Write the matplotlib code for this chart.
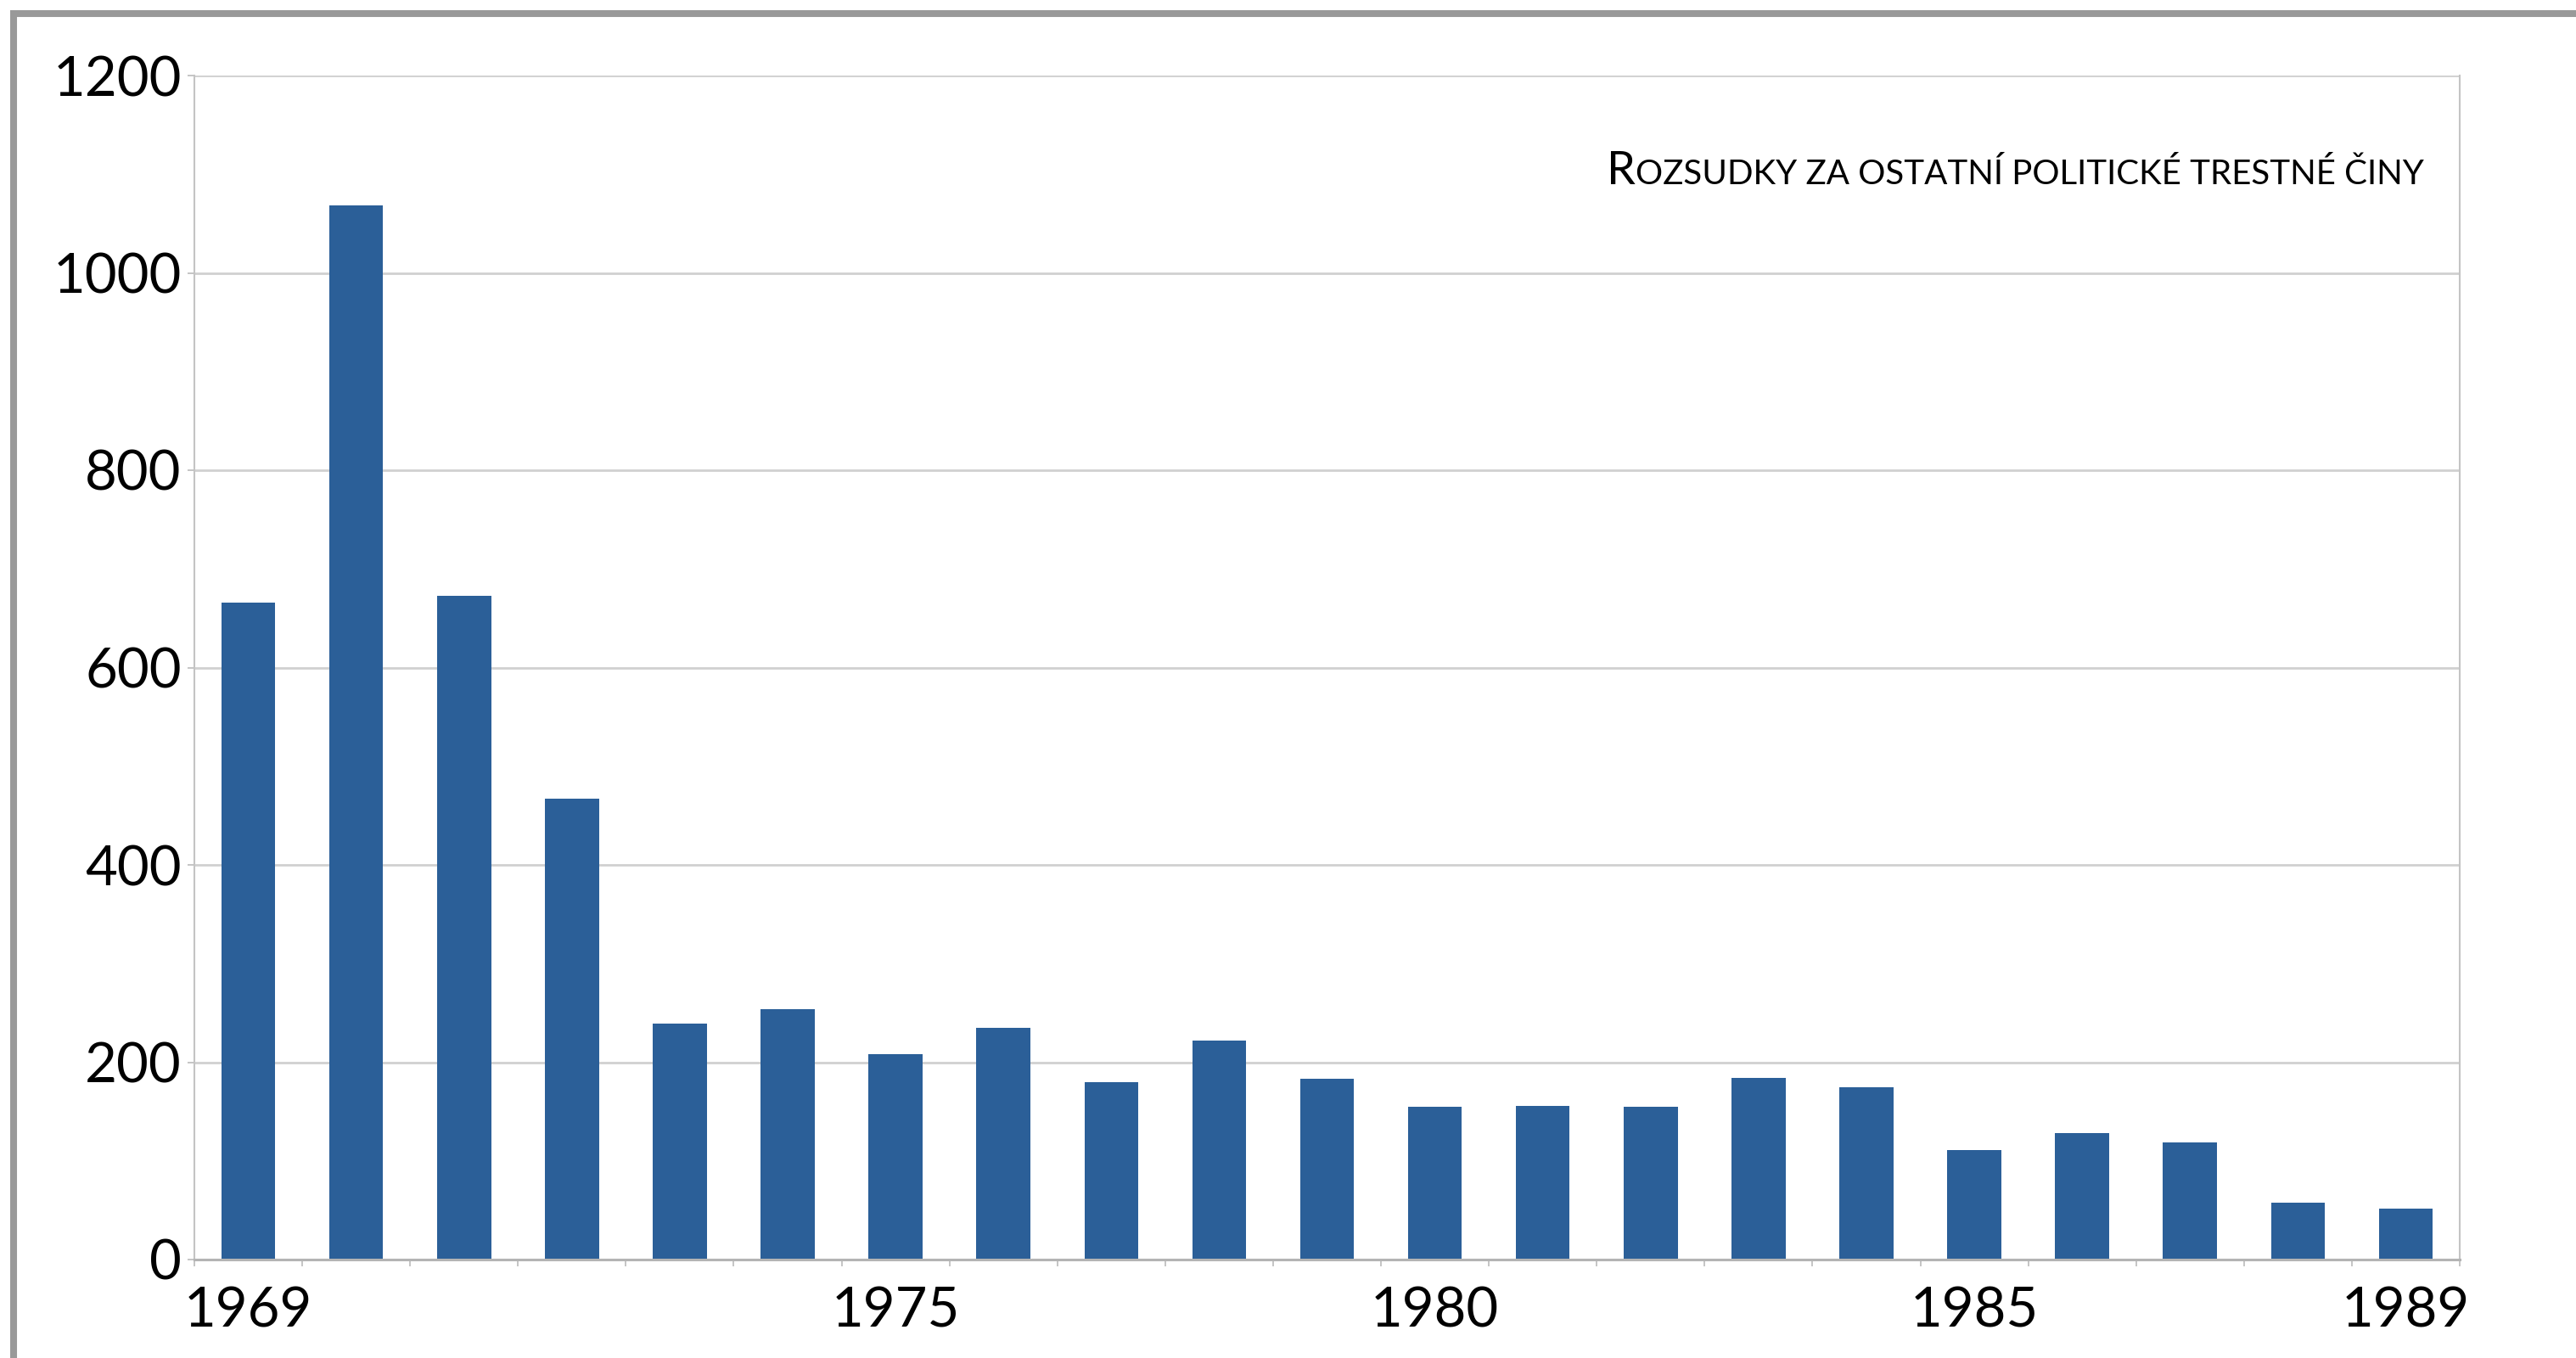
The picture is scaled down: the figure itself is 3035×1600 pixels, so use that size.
import matplotlib
matplotlib.use('Agg')
import matplotlib.pyplot as plt
from matplotlib.lines import Line2D
from matplotlib.offsetbox import TextArea, HPacker, AnchoredOffsetbox

# data
years = list(range(1969, 1990))
counts = [666, 1068, 673, 467, 239, 254, 208, 235, 180, 222, 183,
          155, 156, 155, 184, 175, 111, 128, 119, 58, 52]
label_years = [1969, 1975, 1980, 1985, 1989]
y_ticks = [0, 200, 400, 600, 800, 1000, 1200]
title_first = 'R'
title_rest = 'OZSUDKY ZA OSTATNÍ POLITICKÉ TRESTNÉ ČINY'

plt.rcParams['font.family'] = ['Lato', 'DejaVu Sans']

bar_color = '#2b5f98'
grid_color = '#d0d0d0'

W, H = 3035, 1600
fig = plt.figure(figsize=(W / 100, H / 100), dpi=100)
ax = fig.add_axes([229 / W, 1 - 1484 / H, (2898 - 229) / W, (1484 - 89) / H])

pos = list(range(len(years)))
ax.bar(pos, counts, width=0.5, color=bar_color, zorder=3)

ax.set_xlim(-0.5, len(years) - 0.5)
ax.set_ylim(0, 1200)

# y axis
ax.set_yticks(y_ticks)
ax.set_yticklabels([str(v) for v in y_ticks])
ax.yaxis.grid(True, color=grid_color, linewidth=2, zorder=0)
ax.tick_params(axis='y', length=6, width=1.2, color='#bbbbbb', pad=5,
               labelsize=47, labelcolor='black')

# x axis: ticks at category boundaries, labels under some bars
ax.set_xticks([p - 0.5 for p in pos] + [len(years) - 0.5])
ax.set_xticklabels([])
ax.set_xticks([years.index(y) for y in label_years], minor=True)
ax.set_xticklabels([str(y) for y in label_years], minor=True)
ax.tick_params(axis='x', which='major', length=6, width=1.2, color='#bbbbbb')
ax.tick_params(axis='x', which='minor', length=0, pad=23, labelsize=47)

for side in ['left', 'right']:
    ax.spines[side].set_color('#c4c4c4')
    ax.spines[side].set_linewidth(1.5)
ax.spines['top'].set_visible(False)
ax.spines['bottom'].set_color('#b4b4b4')
ax.spines['bottom'].set_linewidth(2.2)
ax.spines['bottom'].set_zorder(4)

# small-caps style title
t1 = TextArea(title_first, textprops=dict(size=39, color='black'))
t2 = TextArea(title_rest, textprops=dict(size=29, color='black'))
box = HPacker(children=[t1, t2], align='baseline', pad=0, sep=0)
anchored = AnchoredOffsetbox(loc='upper right', child=box, frameon=False, pad=0,
                             borderpad=0, bbox_to_anchor=(2856 / W, 1 - 177 / H),
                             bbox_transform=fig.transFigure)
ax.add_artist(anchored)

# grey frame (top and left edges)
fig.add_artist(Line2D([12 / W, 1], [1 - 16 / H, 1 - 16 / H], transform=fig.transFigure,
                      color='#999999', linewidth=5.8, solid_capstyle='butt'))
fig.add_artist(Line2D([16 / W, 16 / W], [0, 1 - 12 / H], transform=fig.transFigure,
                      color='#999999', linewidth=5.8, solid_capstyle='butt'))

fig.savefig('out.png', dpi=100, facecolor='white')
